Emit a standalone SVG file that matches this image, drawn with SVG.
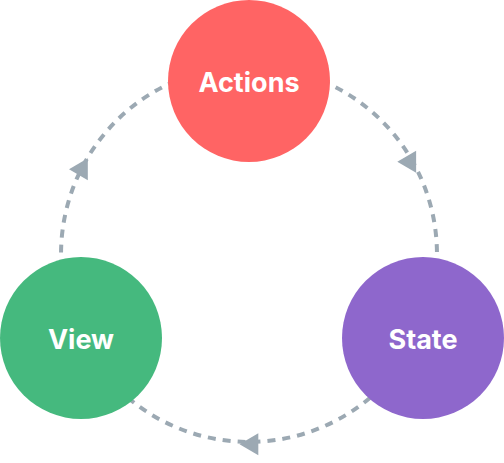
<svg xmlns="http://www.w3.org/2000/svg" width="504" height="463" viewBox="0 0 504 463">
<style>
.arc{fill:none;stroke:#9CA9B3;stroke-width:4;stroke-dasharray:8 7}
.head{fill:#9CA9B3}
.lbl{font-family:Inter,"Liberation Sans",sans-serif;font-weight:700;font-size:27px;fill:#fff;text-anchor:middle}
</style>
<defs>
<path id="tri" d="M0 0 L18.8 -11 L18.8 11 Z"/>
</defs>
<g id="connectors">
<path class="arc" d="M81.5 339.3 A188 188 0 0 1 249 66"/>
<path class="arc" d="M249 66 A188 188 0 0 1 416.5 339.3"/>
<path class="arc" d="M416.5 339.3 A188 188 0 0 1 81.5 339.3"/>
<use href="#tri" class="head" x="69" y="169.3"/>
<use href="#tri" class="head" x="397.3" y="161.7"/>
<use href="#tri" class="head" x="239.5" y="444.3"/>
</g>
<g id="actions">
<circle cx="249" cy="81" r="81" fill="#FF6464"/>
<text class="lbl" x="249" y="92">Actions</text>
</g>
<g id="view">
<circle cx="81" cy="338" r="81" fill="#45B97E"/>
<text class="lbl" x="81" y="349">View</text>
</g>
<g id="state">
<circle cx="423" cy="338" r="81" fill="#8E67CC"/>
<text class="lbl" x="423" y="349">State</text>
</g>
</svg>
